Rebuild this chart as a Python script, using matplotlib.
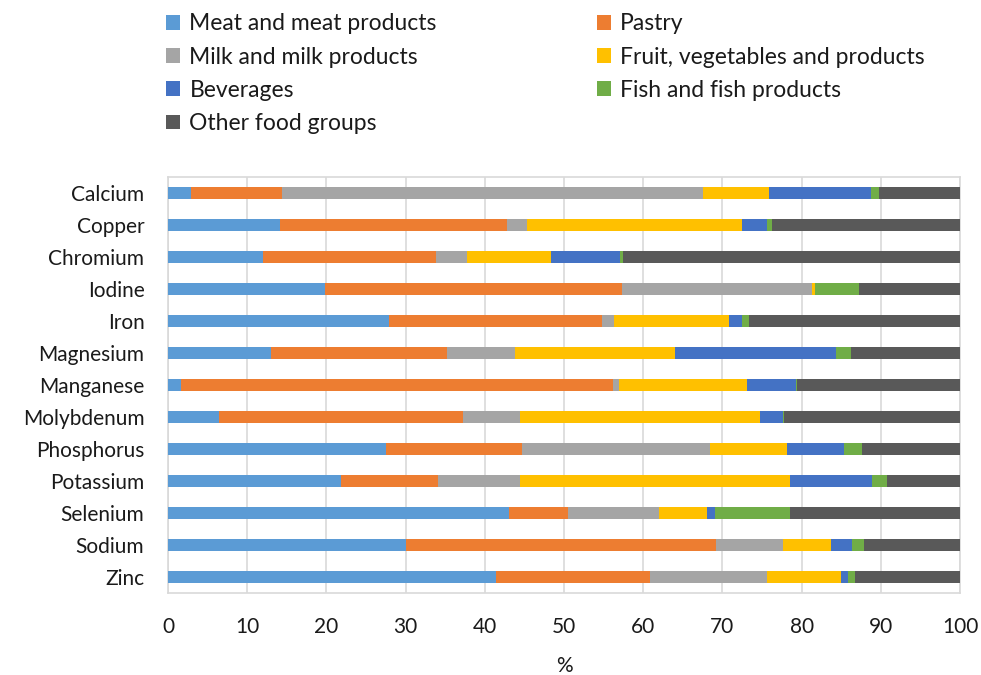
import matplotlib.pyplot as plt
from matplotlib.patches import Patch

plt.rcParams['font.family'] = ['Lato', 'DejaVu Sans']

nutrients = ['Calcium', 'Copper', 'Chromium', 'Iodine', 'Iron', 'Magnesium',
             'Manganese', 'Molybdenum', 'Phosphorus', 'Potassium', 'Selenium',
             'Sodium', 'Zinc']

groups = ['Meat and meat products', 'Pastry', 'Milk and milk products',
          'Fruit, vegetables and products', 'Beverages',
          'Fish and fish products', 'Other food groups']

# share (%) of each food group per nutrient
meat = [2.9, 14.1, 12.0, 19.8, 27.9, 13.0, 1.7, 6.4, 27.5, 21.8, 43.0, 30.1, 41.4]
pastry = [11.5, 28.7, 21.9, 37.5, 26.9, 22.2, 54.5, 30.8, 17.2, 12.3, 7.5, 39.1, 19.5]
milk = [53.1, 2.5, 3.9, 24.0, 1.5, 8.6, 0.7, 7.2, 23.7, 10.3, 11.5, 8.5, 14.7]
fruit_veg = [8.4, 27.2, 10.6, 0.4, 14.5, 20.2, 16.2, 30.3, 9.7, 34.1, 6.1, 6.0, 9.4]
beverages = [12.9, 3.1, 8.7, 0.0, 1.7, 20.3, 6.2, 3.0, 7.3, 10.4, 1.0, 2.7, 0.8]
fish = [1.0, 0.7, 0.4, 5.6, 0.9, 1.9, 0.1, 0.1, 2.2, 1.9, 9.4, 1.5, 1.0]
other = [10.2, 23.7, 42.5, 12.7, 26.6, 13.8, 20.6, 22.2, 12.4, 9.2, 21.5, 12.1, 13.2]

series = [meat, pastry, milk, fruit_veg, beverages, fish, other]
colors = ['#5B9BD5', '#ED7D31', '#A5A5A5', '#FFC000', '#4472C4', '#70AD47', '#595959']

fig = plt.figure(figsize=(9.81, 6.75), dpi=100)
ax = fig.add_axes([168 / 981, 1 - 593 / 675, 792 / 981, 416 / 675])

y = range(len(nutrients))
left = [0.0] * len(nutrients)
for vals, col in zip(series, colors):
    ax.barh(y, vals, left=left, height=0.4, color=col, zorder=3)
    left = [l + v for l, v in zip(left, vals)]

ax.set_xlim(0, 100)
ax.set_ylim(len(nutrients) - 0.5, -0.5)
ax.set_yticks(list(y))
ax.set_yticklabels(nutrients)
ax.set_xticks(range(0, 101, 10))
ax.tick_params(axis='both', length=0, labelsize=15, colors='#1a1a1a')
ax.tick_params(axis='y', pad=17)
ax.tick_params(axis='x', pad=17)
ax.set_xlabel('%', fontsize=15, color='#1a1a1a', labelpad=14)

ax.grid(axis='x', color='#D9D9D9', linewidth=1.2, zorder=0)
for s in ax.spines.values():
    s.set_color('#D9D9D9')
    s.set_linewidth(1.2)

# legend laid out row-wise: two columns
order = [0, 2, 4, 6, 1, 3, 5]
handles = [Patch(facecolor=colors[i], label=groups[i]) for i in order]
fig.legend(handles=handles, ncol=2, loc='upper left',
           bbox_to_anchor=(155 / 981, 1 - 2 / 675), frameon=False,
           fontsize=16.5, handlelength=0.6, handleheight=0.6,
           handletextpad=0.4, columnspacing=7.0, labelspacing=0.53,
           borderpad=0, labelcolor='#1a1a1a')

fig.savefig('out.png', dpi=100)
